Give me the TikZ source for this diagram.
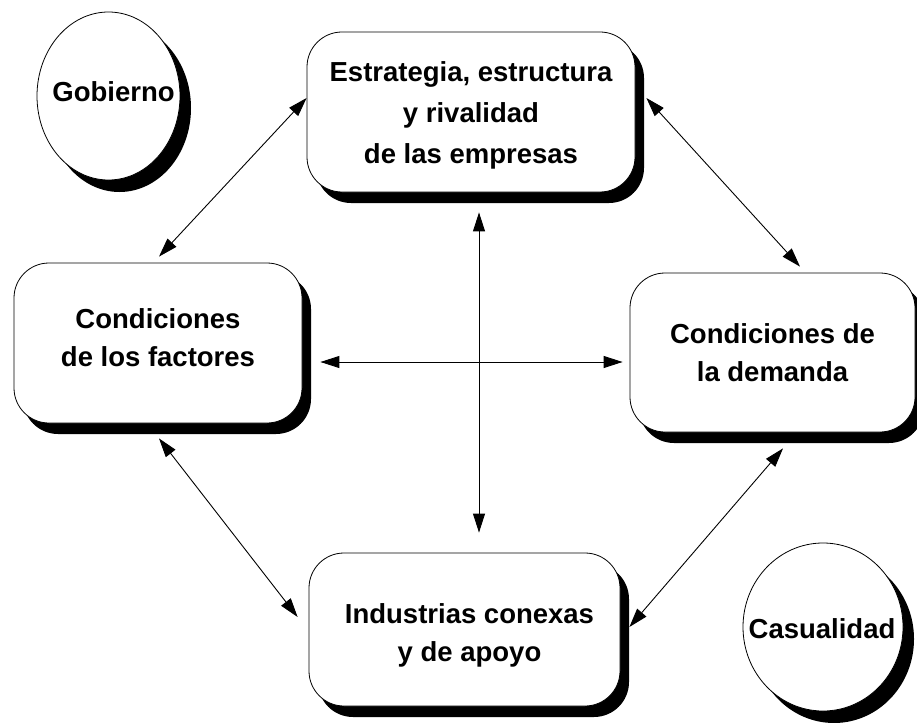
\documentclass[tikz,border=0pt]{standalone}
\usepackage{fontspec}
\setmainfont{Liberation Sans}
\usetikzlibrary{shapes.geometric,shadows,arrows.meta,calc}
\begin{document}
\begin{tikzpicture}[x=1pt,y=-1pt,
  every node/.style={font=\bfseries\fontsize{27.5}{38}\selectfont},
  myshadow/.style={drop shadow={shadow xshift=9pt,shadow yshift=-11pt,fill=black,opacity=1}},
  boxnode/.style={draw,line width=0.8pt,fill=white,rounded corners=35pt,align=center,inner sep=0pt,myshadow},
  ovalnode/.style={ellipse,draw,line width=0.8pt,fill=white,inner sep=0pt,
    drop shadow={shadow xshift=11pt,shadow yshift=-12pt,fill=black,opacity=1}},
  link/.style={line width=0.9pt,{Triangle[length=19pt,width=12pt]}-{Triangle[length=19pt,width=12pt]}}]
\useasboundingbox (0,0) rectangle (917,722);
\node[ovalnode,minimum width=143pt,minimum height=168pt,label={[xshift=5pt,yshift=4pt]center:Gobierno}] (gob) at (108.5,96) {};
\node[ovalnode,minimum width=160pt,minimum height=168pt,label={[xshift=-1pt,yshift=-2pt]center:Casualidad}] (cas) at (823,627) {};
\node[boxnode,minimum width=328pt,minimum height=160pt,
  label={[align=center,yshift=-3pt,font=\bfseries\fontsize{27.5}{41}\selectfont]center:{Estrategia, estructura\\y rivalidad\\de las empresas}}] (est) at (471,112) {};
\node[boxnode,minimum width=288pt,minimum height=160pt,
  label={[align=center,yshift=5pt]center:{Condiciones\\de los factores}}] (fac) at (158,343) {};
\node[boxnode,minimum width=285pt,minimum height=159pt,
  label={[align=center]center:{Condiciones de\\la demanda}}] (dem) at (772.5,352.5) {};
\node[boxnode,minimum width=311pt,minimum height=153pt,
  label={[align=center,yshift=-6pt,xshift=5pt]center:{Industrias conexas\\y de apoyo}}] (ind) at (464.5,629.5) {};
\draw[link] ($(fac.north)+(1,-6)$) -- ($(est.west)+(0,-14)$);
\draw[link] ($(est.east)+(11,-14)$) -- ($(dem.north)+(27.5,-6)$);
\draw[link] ($(est.south)+(8,20)$) -- ($(ind.north)+(14.5,-20)$);
\draw[link] ($(fac.east)+(18,19)$) -- ($(dem.west)+(-7,9.5)$);
\draw[link] ($(fac.south)+(1,15)$) -- ($(ind.west)+(-11,-12.5)$);
\draw[link] ($(dem.south)+(10.5,16)$) -- ($(ind.east)+(9,-2.5)$);
\end{tikzpicture}
\end{document}
